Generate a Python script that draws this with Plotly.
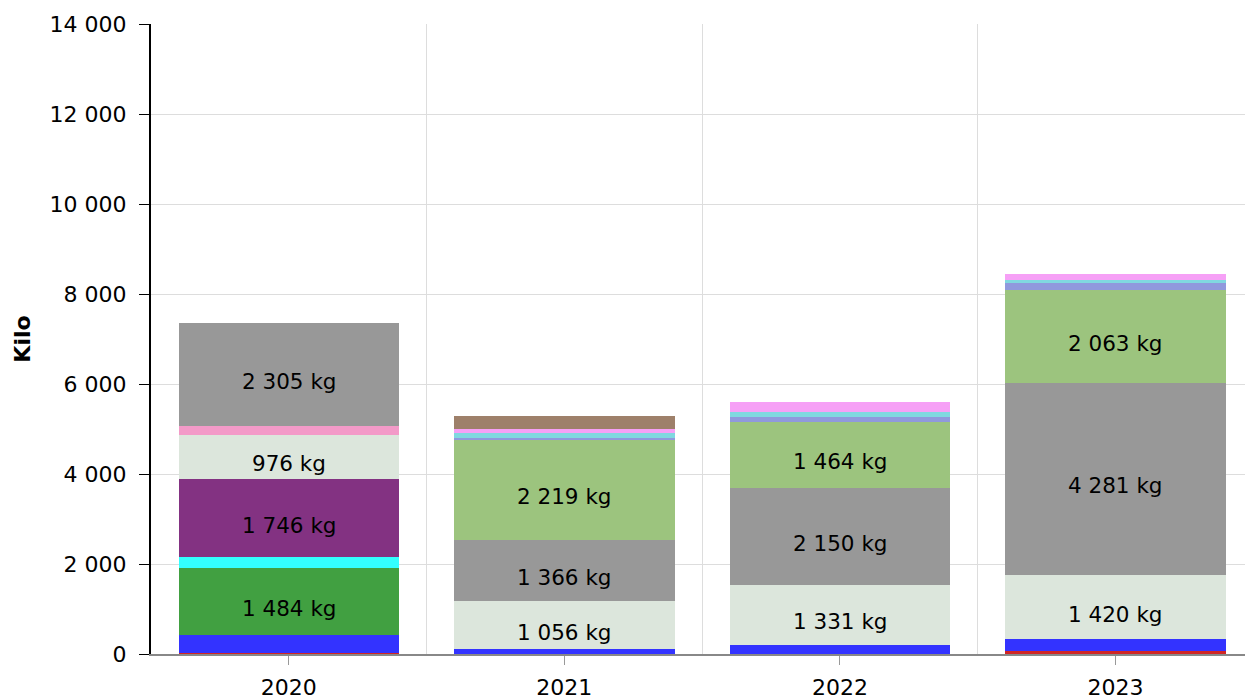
import plotly.graph_objects as go

years = ["2020", "2021", "2022", "2023"]

# kg per kategori, stablet nedenfra og opp
red = [30, 0, 0, 70]
blue = [400, 115, 211, 260]
dark_green = [1484, 0, 0, 0]
cyan = [234, 0, 0, 0]
purple = [1746, 0, 0, 0]
light = [976, 1056, 1331, 1420]
rose = [189, 0, 0, 0]
grey = [2305, 1366, 2150, 4281]
light_green = [0, 2219, 1464, 2063]
periwinkle = [0, 50, 106, 155]
light_cyan = [0, 100, 111, 65]
pink = [0, 95, 222, 140]
brown = [0, 290, 0, 0]

series = [
    (red, "#d02525"),
    (blue, "#3333ff"),
    (dark_green, "#41a041"),
    (cyan, "#33ffff"),
    (purple, "#833282"),
    (light, "#dce6dc"),
    (rose, "#f39ac8"),
    (grey, "#989898"),
    (light_green, "#9cc47e"),
    (periwinkle, "#9099dd"),
    (light_cyan, "#80d8e0"),
    (pink, "#f6a0f6"),
    (brown, "#9e806a"),
]

def label(v):
    return f"{v:,}".replace(",", " ") + " kg"

xpos = list(range(len(years)))

fig = go.Figure()
base = [0] * len(years)
for vals, color in series:
    fig.add_trace(go.Bar(
        x=xpos, y=vals,
        marker=dict(color=color, line=dict(width=0)),
        width=0.8,
        showlegend=False,
        hoverinfo="skip",
    ))
    # tekst bare på store segmenter, litt under midten som i originalen
    for i, v in enumerate(vals):
        if v >= 900:
            fig.add_annotation(
                x=xpos[i], y=base[i] + v / 2, text=label(v),
                showarrow=False, yshift=-7,
                font=dict(color="black", size=21.5, family="DejaVu Sans"),
            )
        base[i] += v

fig.update_layout(
    barmode="stack",
    width=1245, height=699,
    margin=dict(l=151, r=0, t=24, b=45),
    paper_bgcolor="white",
    plot_bgcolor="white",
    separators=", ",
    font=dict(family="DejaVu Sans", size=22, color="black"),
    xaxis=dict(
        range=[-0.5, 3.47],
        tickvals=xpos, ticktext=years,
        showgrid=False,
        ticks="outside", ticklen=9, tickcolor="#999999",
        ticklabelstandoff=4,
        showline=True, linecolor="#888888", linewidth=2,
        zeroline=False,
        automargin=False,
        minor=dict(tick0=0.5, dtick=1, showgrid=True, gridcolor="#dddddd", ticklen=0),
        tickfont=dict(size=22),
    ),
    yaxis=dict(
        range=[0, 14000], dtick=2000,
        tickformat=",d",
        showgrid=True, gridcolor="#dddddd",
        ticks="outside", ticklen=10, tickcolor="black",
        ticklabelstandoff=8,
        showline=True, linecolor="black", linewidth=2,
        zeroline=False,
        automargin=False,
        title=dict(text="<b>Kilo</b>", font=dict(size=22), standoff=13),
        tickfont=dict(size=22),
    ),
)

# fjerner body-margin så figuren ligger helt i hjørnet
fig.write_html(
    "out.html",
    config={"displayModeBar": False},
    post_script="document.body.style.margin='0';document.body.style.overflow='hidden';",
)
